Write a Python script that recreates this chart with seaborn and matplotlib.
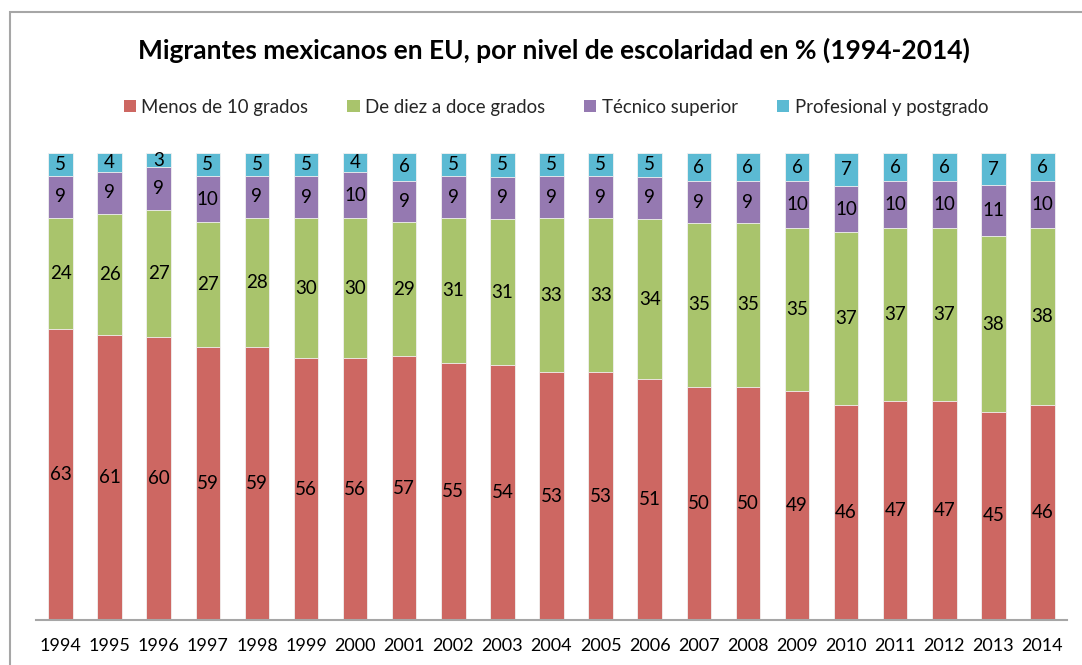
import numpy as np
import pandas as pd
import matplotlib
matplotlib.use("Agg")
import matplotlib.pyplot as plt
from matplotlib.patches import Rectangle, Patch
import seaborn as sns

years = [str(y) for y in range(1994, 2015)]
menos_10 = [63, 61, 60, 59, 59, 56, 56, 57, 55, 54, 53, 53, 51, 50, 50, 49, 46, 47, 47, 45, 46]
diez_doce = [24, 26, 27, 27, 28, 30, 30, 29, 31, 31, 33, 33, 34, 35, 35, 35, 37, 37, 37, 38, 38]
tecnico = [9, 9, 9, 10, 9, 9, 10, 9, 9, 9, 9, 9, 9, 9, 9, 10, 10, 10, 10, 11, 10]
profesional = [5, 4, 3, 5, 5, 5, 4, 6, 5, 5, 5, 5, 5, 6, 6, 6, 7, 6, 6, 7, 6]

series_names = ["Menos de 10 grados", "De diez a doce grados", "Técnico superior", "Profesional y postgrado"]
series_vals = [menos_10, diez_doce, tecnico, profesional]
colors = ["#CD6762", "#A9C46C", "#9579B1", "#5BBAD3"]

sns.set_theme(style="white")
plt.rcParams["font.family"] = ["Lato", "DejaVu Sans"]

# 100% stacked layout: each year's shares scaled to a common total
vals = np.array(series_vals, dtype=float)
shares = vals / vals.sum(axis=0) * 100
cum = np.cumsum(shares, axis=0)

fig = plt.figure(figsize=(10.82, 6.65), dpi=100)
ax = fig.add_axes([36 / 1082, 1 - 620 / 665, (1067 - 36) / 1082, (620 - 153) / 665])

# draw from the tallest cumulative layer down so each segment shows
for i in range(len(series_names) - 1, -1, -1):
    df = pd.DataFrame({"year": years, "value": cum[i]})
    sns.barplot(data=df, x="year", y="value", color=colors[i], width=0.5,
                saturation=1, edgecolor="#F2F2F2", linewidth=0.6, ax=ax)

# value labels centred in each segment
for i in range(len(series_names)):
    base = cum[i] - shares[i]
    for j, yr in enumerate(years):
        ax.text(j, base[j] + shares[i][j] / 2, str(series_vals[i][j]),
                ha="center", va="center", fontsize=13.5, color="black")

ax.set_xlim(-0.5, len(years) - 0.5)
ax.set_ylim(0, 100)
ax.set_xlabel("")
ax.set_ylabel("")
ax.set_yticks([])
for s in ["top", "left", "right"]:
    ax.spines[s].set_visible(False)
ax.spines["bottom"].set_color("#A6A6A6")
ax.spines["bottom"].set_linewidth(1.5)
ax.tick_params(axis="x", length=0, pad=13, labelsize=13, labelcolor="black")

fig.text(554 / 1082, 1 - 50 / 665, "Migrantes mexicanos en EU, por nivel de escolaridad en % (1994-2014)",
         ha="center", va="center", fontsize=19, fontweight="bold", color="black")

handles = [Patch(facecolor=c, edgecolor="none") for c in colors]
fig.legend(handles, series_names, loc="center", bbox_to_anchor=(556 / 1082, 1 - 107 / 665),
           ncol=4, frameon=False, fontsize=13.4, handlelength=0.65, handleheight=0.65,
           handletextpad=0.3, columnspacing=2.1)

# outer chart border
fig.patches.append(Rectangle((10 / 1082, -0.1), 1.2, 1 - 12 / 665 + 0.1, transform=fig.transFigure,
                             fill=False, edgecolor="#A6A6A6", linewidth=1.5))

fig.savefig("out.png", dpi=100, facecolor="white")
